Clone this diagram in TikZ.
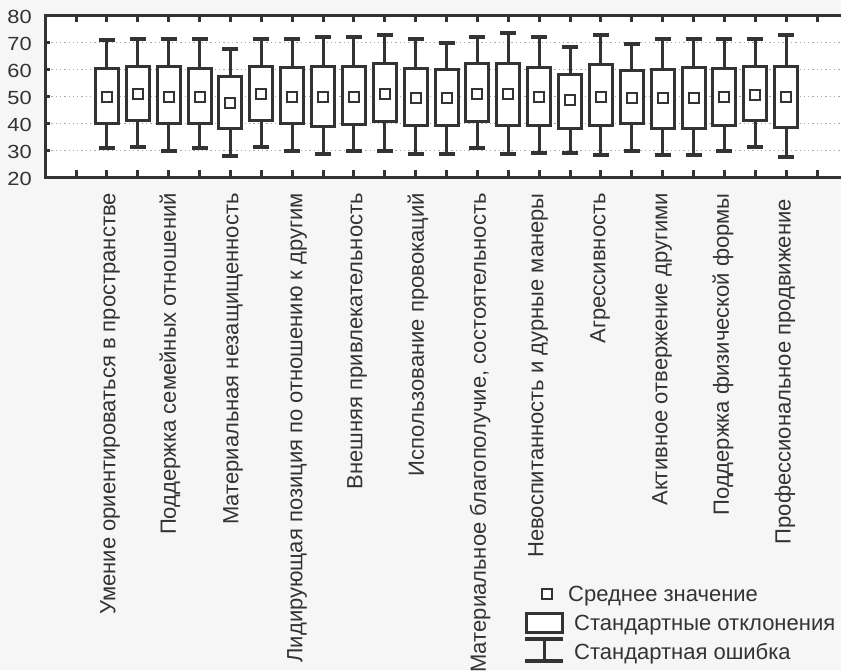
\documentclass[tikz,border=0pt]{standalone}
\usepackage{fontspec}
\setmainfont{Liberation Sans}
\definecolor{ink}{HTML}{333333}
\definecolor{bgc}{HTML}{F6F6F6}
\definecolor{gridc}{HTML}{A8A8A8}
\begin{document}
\begin{tikzpicture}[x=1pt,y=-1pt,
  declare function={vy(\v)=15+(80-\v)*2.7167;},
  lbl/.style={font=\fontsize{22}{25}\selectfont, text=ink, rotate=90, anchor=east, inner sep=0pt},
  ylab/.style={font=\fontsize{19}{21}\selectfont, text=ink, anchor=east, inner sep=0pt},
  legtext/.style={font=\fontsize{22}{25}\selectfont, text=ink, anchor=base west, inner sep=0pt},
  framest/.style={draw=ink, line width=3pt},
  gridst/.style={draw=gridc, line width=1.3pt, dash pattern=on 1.3pt off 3pt},
  boxst/.style={draw=ink, fill=white, line width=3pt},
  whiskst/.style={draw=ink, line width=3pt},
  capst/.style={draw=ink, line width=4pt},
  meanst/.style={draw=ink, fill=white, line width=2pt}]
\useasboundingbox (0,0) rectangle (841,670);
\fill[bgc] (0,0) rectangle (841,670);
\begin{scope}
\clip (0,0) rectangle (841,670);
\fill[white] (45,15) rectangle (860,177);
% grid
\foreach \v in {30,40,50,60,70}{
  \draw[gridst] (47,{vy(\v)}) -- (845,{vy(\v)});
  \draw[framest] (45,{vy(\v)}) -- (50,{vy(\v)});
}
% ticks
\foreach \i in {0,...,24}{
  \draw[framest] ({76+\i*30.875},15) -- ({76+\i*30.875},22);
  \draw[framest] ({76+\i*30.875},177) -- ({76+\i*30.875},170);
}
% boxes
\foreach \i/\m/\bt/\bb/\wt/\wb in {
 1/50/60.4/40.1/70.8/30.9,
 2/50.8/61.0/41.1/71/31.3,
 3/50/61.2/40.1/71/30.1,
 4/50/60.4/40.1/71/30.9,
 5/47.7/57.3/38.3/67.4/28.1,
 6/50.9/61.2/41.1/71/31.3,
 7/50/60.8/40.1/71/29.8,
 8/50/61.2/39.1/71.8/29,
 9/50/61.2/39.8/71.8/29.8,
 10/50.9/62.2/40.8/72.6/30.1,
 11/49.4/60.4/39.4/71/29,
 12/49.4/59.8/39.4/69.8/29,
 13/50.9/62.2/40.8/72.0/30.9,
 14/50.9/62.2/39.4/73.3/29,
 15/50/60.8/39.4/71.8/29.3,
 16/48.7/58.0/38.3/68.1/29.3,
 17/50/61.6/39.4/72.6/28.5,
 18/49.4/59.5/40.1/69.3/30.1,
 19/49.4/59.9/38.3/71/28.5,
 20/49.4/60.8/38.3/71/28.5,
 21/50/60.4/39.4/71/29.8,
 22/50.6/61.2/41.1/71/31.3,
 23/50/61.2/38.7/72.6/27.6}{
  \pgfmathsetmacro{\xc}{76+\i*30.875}
  \draw[whiskst] (\xc,{vy(\bt)}) -- (\xc,{vy(\wt)});
  \draw[whiskst] (\xc,{vy(\bb)}) -- (\xc,{vy(\wb)});
  \draw[capst] (\xc-8,{vy(\wt)}) -- (\xc+8,{vy(\wt)});
  \draw[capst] (\xc-8,{vy(\wb)}) -- (\xc+8,{vy(\wb)});
  \draw[boxst] (\xc-11.5,{vy(\bt)}) rectangle (\xc+11.5,{vy(\bb)});
  \draw[meanst] (\xc-5,{vy(\m)-5}) rectangle (\xc+5,{vy(\m)+5});
}
% frame
\draw[framest] (870,15) -- (45,15) -- (45,177) -- (870,177);
\end{scope}
% y labels
\foreach \v/\yy in {80/16.5,70/44,60/71,50/98,40/125,30/152,20/179}{
  \node[ylab] (y\v) at (32,\yy) {\scalebox{1.15}[1]{\v}};
}
% category labels
\node[lbl] (c1) at (110,193) {Умение ориентироваться в пространстве};
\node[lbl] (c2) at (170,193) {Поддержка семейных отношений};
\node[lbl] (c3) at (233,193) {Материальная незащищенность};
\node[lbl] (c4) at (297,193) {Лидирующая позиция по отношению к другим};
\node[lbl] (c5) at (357,193) {Внешняя привлекательность};
\node[lbl] (c6) at (418,193) {Использование провокаций};
\node[lbl] (c7) at (480,193) {Материальное благополучие, состоятельность};
\node[lbl] (c8) at (538,193) {Невоспитанность и дурные манеры};
\node[lbl] (c9) at (600,193) {Агрессивность};
\node[lbl] (c10) at (662,193) {Активное отвержение другими};
\node[lbl] (c11) at (723,193) {Поддержка физической формы};
\node[lbl] (c12) at (785,199) {Профессиональное продвижение};
% legend
\draw[meanst, line width=1.6pt] (542,589) rectangle (552,599);
\node[legtext] (l1) at (568,601) {Среднее значение};
\draw[boxst] (526,613) rectangle (562,632);
\node[legtext] (l2) at (574,630) {Стандартные отклонения};
\draw[capst] (525,639) -- (563,639);
\draw[whiskst] (544,639) -- (544,661);
\draw[capst] (525,661) -- (563,661);
\node[legtext] (l3) at (574,659) {Стандартная ошибка};
\end{tikzpicture}
\end{document}
